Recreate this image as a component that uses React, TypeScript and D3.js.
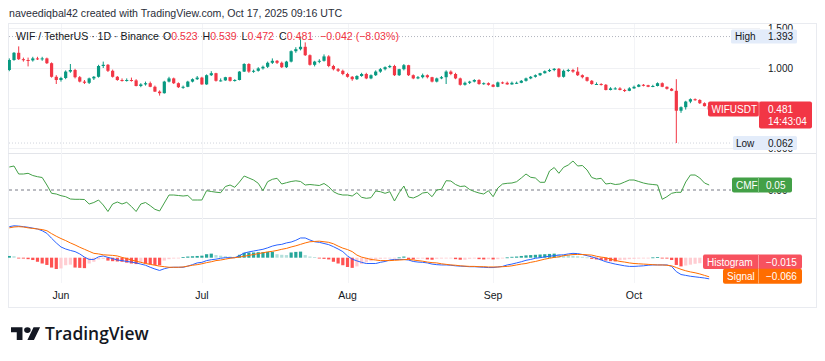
import React from 'react';
import * as d3 from 'd3';

const startDate = '2025-05-21';
const ohlc: [number, number, number, number][] = [
  [0.975,1.12,0.96,1.10],[1.10,1.20,1.09,1.19],[1.19,1.27,1.10,1.11],[1.11,1.13,1.08,1.10],[1.10,1.13,1.02,1.095],[1.095,1.14,1.08,1.12],[1.12,1.14,1.10,1.115],[1.115,1.14,1.09,1.12],[1.12,1.13,1.05,1.06],[1.06,1.07,0.88,0.89],
  [0.89,0.91,0.80,0.85],[0.85,0.89,0.83,0.875],[0.875,0.97,0.86,0.955],[0.955,1.05,0.94,0.975],[0.975,0.99,0.87,0.885],[0.885,0.90,0.82,0.83],[0.83,0.85,0.80,0.815],[0.815,0.88,0.80,0.87],[0.87,0.90,0.85,0.89],[0.89,1.04,0.88,1.025],
  [1.025,1.08,1.00,1.04],[1.04,1.05,0.95,0.965],[0.965,0.98,0.88,0.89],[0.89,0.90,0.84,0.85],[0.85,0.87,0.83,0.845],[0.845,0.87,0.83,0.85],[0.85,0.88,0.83,0.845],[0.845,0.86,0.77,0.775],[0.775,0.81,0.76,0.795],[0.795,0.83,0.78,0.81],
  [0.81,0.83,0.76,0.765],[0.765,0.78,0.70,0.705],[0.705,0.72,0.655,0.685],[0.685,0.84,0.68,0.83],[0.83,0.89,0.82,0.87],[0.87,0.88,0.80,0.81],[0.81,0.82,0.75,0.76],[0.76,0.78,0.74,0.765],[0.765,0.84,0.76,0.83],[0.83,0.87,0.82,0.86],
  [0.86,0.90,0.85,0.88],[0.88,0.89,0.79,0.795],[0.795,0.92,0.79,0.91],[0.91,0.96,0.90,0.935],[0.935,0.94,0.83,0.84],[0.84,0.87,0.83,0.845],[0.845,0.89,0.84,0.885],[0.885,0.89,0.83,0.84],[0.84,0.86,0.83,0.85],[0.85,0.96,0.845,0.955],
  [0.955,1.06,0.95,1.05],[1.05,1.06,0.94,0.955],[0.955,0.98,0.94,0.965],[0.965,1.01,0.955,0.995],[0.995,1.03,0.98,1.015],[1.015,1.08,1.00,1.065],[1.065,1.12,1.05,1.09],[1.09,1.10,1.05,1.065],[1.065,1.08,1.00,1.01],[1.01,1.09,1.00,1.08],
  [1.08,1.22,1.07,1.21],[1.21,1.26,1.19,1.235],[1.235,1.393,1.22,1.265],[1.265,1.32,1.15,1.16],[1.16,1.17,1.03,1.04],[1.04,1.09,1.02,1.08],[1.08,1.11,1.06,1.09],[1.09,1.17,1.08,1.145],[1.145,1.16,1.01,1.025],[1.025,1.04,0.97,0.985],
  [0.985,1.00,0.95,0.965],[0.965,0.98,0.91,0.925],[0.925,0.94,0.88,0.89],[0.89,0.90,0.84,0.86],[0.86,0.91,0.85,0.90],[0.90,0.94,0.89,0.925],[0.925,0.94,0.86,0.87],[0.87,0.92,0.86,0.91],[0.91,0.97,0.90,0.955],[0.955,1.00,0.94,0.985],
  [0.985,1.02,0.97,1.01],[1.01,1.04,1.00,1.025],[1.025,1.04,0.90,0.91],[0.91,0.99,0.90,0.985],[0.985,1.05,0.97,1.035],[1.035,1.04,0.90,0.91],[0.91,0.92,0.86,0.87],[0.87,0.90,0.86,0.885],[0.885,0.93,0.87,0.91],[0.91,0.92,0.87,0.885],
  [0.885,0.89,0.82,0.83],[0.83,0.88,0.82,0.87],[0.87,0.90,0.86,0.885],[0.885,0.97,0.80,0.955],[0.955,0.97,0.91,0.925],[0.925,0.94,0.86,0.87],[0.87,0.88,0.78,0.79],[0.79,0.83,0.78,0.815],[0.815,0.84,0.80,0.83],[0.83,0.86,0.82,0.85],
  [0.85,0.86,0.79,0.80],[0.80,0.82,0.79,0.81],[0.81,0.82,0.78,0.79],[0.79,0.80,0.76,0.765],[0.765,0.83,0.76,0.82],[0.82,0.83,0.80,0.815],[0.815,0.83,0.79,0.795],[0.795,0.83,0.79,0.815],[0.815,0.83,0.80,0.815],[0.815,0.85,0.81,0.84],
  [0.84,0.88,0.83,0.87],[0.87,0.90,0.86,0.89],[0.89,0.92,0.88,0.91],[0.91,0.94,0.90,0.935],[0.935,0.97,0.93,0.96],[0.96,0.99,0.95,0.975],[0.975,1.00,0.96,0.99],[0.99,1.00,0.88,0.89],[0.89,0.98,0.88,0.965],[0.965,0.99,0.95,0.975],
  [0.975,0.99,0.94,0.955],[0.955,1.01,0.90,0.91],[0.91,0.92,0.87,0.885],[0.885,0.89,0.83,0.84],[0.84,0.85,0.79,0.80],[0.80,0.82,0.79,0.80],[0.80,0.81,0.78,0.79],[0.79,0.80,0.72,0.725],[0.725,0.76,0.72,0.745],[0.745,0.76,0.73,0.745],
  [0.745,0.76,0.72,0.725],[0.725,0.74,0.70,0.715],[0.715,0.76,0.71,0.745],[0.745,0.78,0.74,0.765],[0.765,0.80,0.76,0.79],[0.79,0.80,0.77,0.785],[0.785,0.79,0.76,0.765],[0.765,0.79,0.76,0.775],[0.775,0.82,0.77,0.81],[0.81,0.82,0.76,0.765],
  [0.765,0.77,0.73,0.74],[0.74,0.75,0.71,0.715],[0.715,0.86,0.062,0.466],[0.466,0.52,0.44,0.51],[0.51,0.59,0.48,0.58],[0.58,0.62,0.56,0.61],[0.61,0.62,0.59,0.60],[0.60,0.61,0.55,0.56],[0.56,0.57,0.52,0.523],[0.523,0.539,0.472,0.481],
];

const cmf = [
  0.23,0.24,0.16,0.16,0.167,0.145,0.133,0.125,0.05,-0.033,
  -0.04,-0.057,-0.067,-0.09,-0.093,-0.093,-0.095,-0.14,-0.125,-0.10,
  -0.15,-0.215,-0.14,-0.12,-0.14,-0.123,-0.165,-0.215,-0.14,-0.125,
  -0.157,-0.193,-0.21,-0.13,-0.05,-0.05,-0.055,-0.06,-0.055,-0.10,
  -0.10,-0.10,-0.007,-0.015,-0.022,-0.027,0.035,0.05,0.027,0.08,
  0.14,0.12,0.10,0.067,-0.007,0.083,0.107,0.117,0.06,0.073,
  0.085,0.092,0.085,0.05,0.055,0.05,0.045,0.065,0.033,-0.017,
  -0.04,-0.05,-0.05,-0.06,-0.027,-0.073,-0.083,-0.077,-0.01,-0.017,
  -0.033,-0.017,-0.11,-0.027,0.04,-0.07,-0.08,-0.06,-0.03,-0.023,
  -0.067,0,0.007,0.093,0.09,0.055,0.035,0.04,0.005,-0.015,
  -0.03,-0.04,-0.007,-0.067,0.02,0.06,0.067,0.07,0.083,0.12,
  0.16,0.127,0.12,0.077,0.077,0.19,0.225,0.167,0.227,0.25,
  0.29,0.24,0.245,0.2,0.125,0.11,0.117,0.06,0.067,0.055,
  0.06,0.08,0.10,0.10,0.085,0.07,0.06,0.055,0.05,-0.093,
  -0.067,-0.033,-0.023,-0.023,0.08,0.15,0.15,0.12,0.07,0.05,
];

const macd = [
  0.107,0.110,0.109,0.107,0.105,0.102,0.099,0.093,0.084,0.067,
  0.051,0.037,0.030,0.025,0.021,0.013,0.002,-0.006,-0.006,0.003,
  0.006,0.001,-0.003,-0.008,-0.010,-0.013,-0.015,-0.018,-0.022,-0.026,
  -0.033,-0.039,-0.044,-0.038,-0.034,-0.033,-0.033,-0.033,-0.029,-0.024,
  -0.018,-0.016,-0.010,-0.007,-0.005,-0.002,0.000,0.000,0.000,0.007,
  0.016,0.020,0.023,0.026,0.029,0.034,0.040,0.044,0.046,0.051,
  0.054,0.060,0.068,0.068,0.061,0.055,0.053,0.049,0.045,0.038,
  0.030,0.021,0.006,-0.005,-0.011,-0.016,-0.020,-0.020,-0.020,-0.016,
  -0.013,-0.008,-0.006,-0.006,-0.006,-0.008,-0.013,-0.015,-0.016,-0.018,
  -0.022,-0.024,-0.025,-0.025,-0.026,-0.028,-0.029,-0.030,-0.031,-0.031,
  -0.032,-0.033,-0.034,-0.034,-0.032,-0.030,-0.025,-0.022,-0.018,-0.014,
  -0.009,-0.006,-0.002,0.000,0.003,0.005,0.007,0.009,0.010,0.013,
  0.015,0.014,0.011,0.007,0.003,-0.002,-0.008,-0.014,-0.018,-0.022,
  -0.025,-0.028,-0.030,-0.030,-0.029,-0.028,-0.026,-0.025,-0.025,-0.025,
  -0.025,-0.030,-0.048,-0.058,-0.061,-0.064,-0.066,-0.068,-0.070,-0.073,
];

const signal = [
  0.103,0.106,0.107,0.106,0.103,0.101,0.099,0.097,0.093,0.083,
  0.074,0.066,0.059,0.051,0.044,0.036,0.029,0.022,0.015,0.013,
  0.010,0.009,0.008,0.006,0.001,-0.003,-0.008,-0.012,-0.016,-0.020,
  -0.023,-0.026,-0.029,-0.031,-0.033,-0.033,-0.033,-0.032,-0.029,-0.026,
  -0.024,-0.021,-0.017,-0.014,-0.010,-0.008,-0.005,-0.002,0.000,0.002,
  0.005,0.008,0.011,0.014,0.017,0.020,0.022,0.025,0.029,0.032,
  0.037,0.041,0.046,0.051,0.055,0.056,0.057,0.055,0.053,0.048,
  0.040,0.033,0.028,0.021,0.009,0.002,-0.002,-0.006,-0.008,-0.010,
  -0.010,-0.010,-0.009,-0.008,-0.007,-0.006,-0.008,-0.010,-0.012,-0.015,
  -0.017,-0.018,-0.021,-0.023,-0.025,-0.026,-0.028,-0.029,-0.030,-0.030,
  -0.031,-0.031,-0.032,-0.032,-0.032,-0.031,-0.030,-0.028,-0.025,-0.022,
  -0.020,-0.016,-0.013,-0.009,-0.005,-0.002,0.001,0.003,0.007,0.009,
  0.011,0.011,0.011,0.010,0.009,0.005,0.002,0.000,-0.005,-0.009,
  -0.013,-0.015,-0.018,-0.020,-0.021,-0.022,-0.023,-0.024,-0.025,-0.025,
  -0.026,-0.028,-0.034,-0.040,-0.045,-0.049,-0.052,-0.056,-0.061,-0.066,
];

const hist = [
  0.006,0.005,-0.002,-0.003,-0.005,-0.008,-0.014,-0.02,-0.025,-0.034,
  -0.039,-0.037,-0.026,-0.024,-0.034,-0.035,-0.036,-0.02,-0.014,-0.006,
  -0.004,-0.01,-0.012,-0.013,-0.014,-0.017,-0.02,-0.022,-0.015,-0.02,
  -0.023,-0.025,-0.026,-0.01,-0.005,-0.003,-0.002,0.002,0.004,0.005,
  0.006,0.007,0.012,0.014,0.009,0.007,0.005,0.004,0.003,0.01,
  0.017,0.018,0.018,0.019,0.019,0.02,0.02,0.012,0.01,0.009,
  0.018,0.02,0.021,0.009,0.004,0.002,-0.001,-0.004,-0.006,-0.014,
  -0.02,-0.026,-0.032,-0.035,-0.03,-0.022,-0.016,-0.012,-0.006,-0.004,
  -0.003,-0.002,-0.002,0.001,0.004,-0.005,-0.006,-0.004,-0.003,-0.006,
  -0.007,-0.004,-0.003,-0.002,-0.002,-0.005,-0.007,-0.007,-0.004,-0.003,
  -0.005,-0.006,-0.005,-0.006,-0.005,-0.002,0.001,0.003,0.004,0.006,
  0.008,0.009,0.01,0.011,0.012,0.013,0.014,0.012,0.01,0.009,
  0.007,0.005,0.003,0.001,-0.004,-0.006,-0.008,-0.01,-0.012,-0.013,
  -0.009,-0.007,-0.005,-0.004,-0.003,-0.002,-0.001,0.001,0.002,-0.001,
  -0.003,-0.008,-0.025,-0.03,-0.027,-0.024,-0.021,-0.019,-0.017,-0.015,
];

const priceTicks = [0, 0.5, 1.0, 1.5];
const cmfTicks = [0];
const headerText = 'naveediqbal42 created with TradingView.com, Oct 17, 2025 09:16 UTC';
const symbolText = 'WIF / TetherUS · 1D · Binance';
const ohlcLabels = ['O', 'H', 'L', 'C'];
const changeText = '−0.042 (−8.03%)';
const tickerName = 'WIFUSDT';
const countdown = '14:43:04';
const highLow = { high: 1.393, low: 0.062 };

const UP = '#089981';
const DOWN = '#f23645';
const FONT = '"Liberation Sans", Arial, sans-serif';
const TEXT = '#131722';

export default function App() {
  const day0 = new Date(startDate + 'T00:00:00Z');
  const dates = ohlc.map((_, i) => d3.utcDay.offset(day0, i));
  const x = d3.scaleUtc().domain([dates[0], dates[dates.length - 1]]).range([9.3, 709.2]);

  const frame = { l: 8, r: 816, t: 23, b: 307 };
  const panes = { price: [23, 153], cmf: [153, 218], macd: [218, 283] };

  const yP = d3.scaleLinear().domain([0, 1.5]).range([148, 28]);
  const yC = d3.scaleLinear().domain([-0.2, 0.3]).range([210, 160]);
  const yM = d3.scaleLinear().domain([-0.08, 0.12]).range([257.7 + 0.08 * 290, 257.7 - 0.12 * 290]);

  const monthTicks = x.ticks(d3.utcMonth.every(1));
  const fmtMonth = d3.utcFormat('%b');
  const fmtP = d3.format('.3f');

  const cmfLine = d3.line<number>().x((_, i) => x(dates[i])).y((d) => yC(d));
  const macdLine = d3.line<number>().x((_, i) => x(dates[i])).y((d) => yM(d));

  const last = ohlc[ohlc.length - 1];
  const lastClose = last[3];
  const lastCmf = cmf[cmf.length - 1];
  const lastHist = hist[hist.length - 1];
  const lastSignal = signal[signal.length - 1];
  const fmtNeg = (v: number, p: number) => (v < 0 ? '−' : '') + Math.abs(v).toFixed(p);

  const histColor = (v: number, i: number) => {
    const prev = i > 0 ? hist[i - 1] : v;
    if (v >= 0) return v >= prev ? '#26a69a' : '#b2dfdb';
    return v < prev ? '#ff5252' : '#ffcdd2';
  };

  const bw = 3.2;
  const labelFs = 10;

  const yc = yP(lastClose);
  const yHigh = yP(highLow.high);
  const yLow = yP(highLow.low);
  const yCmfL = yC(lastCmf);
  const yHistL = yM(lastHist);
  const ySigL = yM(lastSignal);

  return (
    <svg width={825} height={361} style={{ position: 'absolute', left: 0, top: 0, background: '#fff' }}
      fontFamily={FONT}>
      <defs>
        <clipPath id="pricePane"><rect x={frame.l} y={panes.price[0]} width={frame.r - frame.l} height={panes.price[1] - panes.price[0]} /></clipPath>
        <clipPath id="cmfPane"><rect x={frame.l} y={panes.cmf[0]} width={frame.r - frame.l} height={panes.cmf[1] - panes.cmf[0]} /></clipPath>
        <clipPath id="macdPane"><rect x={frame.l} y={panes.macd[0]} width={frame.r - frame.l} height={panes.macd[1] - panes.macd[0]} /></clipPath>
      </defs>
      <rect x={0} y={0} width={825} height={361} fill="#fff" />

      {/* header */}
      <text x={9} y={17} fontSize={10.6} fill="#2a2e39">{headerText}</text>

      {/* frame */}
      <rect x={frame.l + 0.5} y={frame.t + 0.5} width={frame.r - frame.l} height={frame.b - frame.t} fill="none" stroke="#e9ebf0" />
      <line x1={frame.l} x2={frame.r} y1={panes.cmf[0] + 0.5} y2={panes.cmf[0] + 0.5} stroke="#e3e5ea" />
      <line x1={frame.l} x2={frame.r} y1={panes.macd[0] + 0.5} y2={panes.macd[0] + 0.5} stroke="#e3e5ea" />

      {/* vertical grid */}
      {monthTicks.map((t, i) => (
        <line key={'vg' + i} x1={Math.round(x(t)) + 0.5} x2={Math.round(x(t)) + 0.5} y1={frame.t + 1} y2={panes.macd[1]} stroke="#f3f4f7" />
      ))}
      {/* horizontal grid in price */}
      {priceTicks.map((p, i) => (
        <line key={'hg' + i} x1={frame.l + 1} x2={760} y1={Math.round(yP(p)) + 0.5} y2={Math.round(yP(p)) + 0.5} stroke="#f0f1f4" clipPath="url(#pricePane)" />
      ))}

      {/* high / low dotted lines */}
      <line x1={frame.l + 1} x2={731} y1={yHigh} y2={yHigh} stroke="#b2b5be" strokeDasharray="1,2" />
      <line x1={frame.l + 1} x2={731} y1={yLow} y2={yLow} stroke="#d1d4dc" strokeDasharray="1,2" />

      {/* candles */}
      <g clipPath="url(#pricePane)">
        {ohlc.map(([o, h, l, c], i) => {
          const cx = x(dates[i]);
          const col = c >= o ? UP : DOWN;
          const top = yP(Math.max(o, c));
          const bot = yP(Math.min(o, c));
          return (
            <g key={'c' + i}>
              <line x1={cx} x2={cx} y1={yP(h)} y2={yP(l)} stroke={col} strokeWidth={1} />
              <rect x={cx - bw / 2} y={top} width={bw} height={Math.max(1, bot - top)} fill={col} />
            </g>
          );
        })}
      </g>

      {/* legend */}
      <g fontSize={10.6}>
        <text x={16} y={40} fill={TEXT}>{symbolText}</text>
        {last.map((v, i) => {
          const xs = [163, 202.5, 241.5, 279][i];
          return (
            <text key={'lg' + i} x={xs} y={40} fill={TEXT}>
              {ohlcLabels[i]}<tspan fill={DOWN}>{fmtP(v)}</tspan>
            </text>
          );
        })}
        <text x={320} y={40} fill={DOWN}>{changeText}</text>
      </g>

      {/* price axis labels */}
      <g clipPath="url(#pricePane)" fontSize={labelFs} fill={TEXT}>
        {priceTicks.map((p, i) => (
          <text key={'pt' + i} x={768} y={yP(p) + 3.5}>{fmtP(p)}</text>
        ))}
      </g>
      <g clipPath="url(#cmfPane)" fontSize={labelFs} fill={TEXT}>
        {cmfTicks.map((p, i) => (
          <text key={'ct' + i} x={768} y={yC(p) + 3.5}>{p.toFixed(2)}</text>
        ))}
      </g>

      {/* CMF */}
      <line x1={frame.l + 1} x2={731} y1={yC(0)} y2={yC(0)} stroke="#787b86" strokeDasharray="3,3" />
      <path d={cmfLine(cmf) || ''} fill="none" stroke="#43a047" strokeWidth={1} clipPath="url(#cmfPane)" />

      {/* MACD */}
      <g clipPath="url(#macdPane)">
        {hist.map((v, i) => {
          const cx = x(dates[i]);
          const y0 = yM(0);
          const y1 = yM(v);
          return <rect key={'h' + i} x={cx - bw / 2} y={Math.min(y0, y1)} width={bw} height={Math.max(0.8, Math.abs(y1 - y0))} fill={histColor(v, i)} />;
        })}
        <path d={macdLine(macd) || ''} fill="none" stroke="#2962ff" strokeWidth={1} />
        <path d={macdLine(signal) || ''} fill="none" stroke="#ff6d00" strokeWidth={1} />
      </g>

      {/* time axis */}
      <g fontSize={10.5} fill={TEXT} textAnchor="middle">
        {monthTicks.map((t, i) => (
          <text key={'mt' + i} x={x(t)} y={299}>{fmtMonth(t)}</text>
        ))}
      </g>

      {/* High label */}
      <rect x={731} y={yHigh - 7} width={66} height={14} rx={1.5} fill="#e3ecfa" />
      <text x={735} y={yHigh + 3.5} fontSize={labelFs} fill={TEXT}>High</text>
      <text x={768} y={yHigh + 3.5} fontSize={labelFs} fill={TEXT}>{fmtP(highLow.high)}</text>
      {/* Low label */}
      <rect x={733} y={yLow - 7} width={64} height={14} rx={1.5} fill="#e3ecfa" />
      <text x={736} y={yLow + 3.5} fontSize={labelFs} fill={TEXT}>Low</text>
      <text x={768} y={yLow + 3.5} fontSize={labelFs} fill={TEXT}>{fmtP(highLow.low)}</text>

      {/* last price label */}
      <rect x={708} y={yc - 8} width={51} height={15} rx={2} fill={DOWN} />
      <rect x={759} y={yc - 8} width={53} height={27} rx={2} fill={DOWN} />
      <line x1={759} x2={759} y1={yc - 8} y2={yc + 7} stroke="#f77c86" />
      <text x={711.5} y={yc + 3.5} fontSize={labelFs} fill="#fff">{tickerName}</text>
      <text x={768} y={yc + 3.5} fontSize={labelFs} fill="#fff">{fmtP(lastClose)}</text>
      <text x={768} y={yc + 15.5} fontSize={labelFs} fill="#fff">{countdown}</text>

      {/* CMF label */}
      <rect x={732} y={yCmfL - 7.5} width={60} height={15} rx={2} fill="#43a047" />
      <line x1={758.5} x2={758.5} y1={yCmfL - 7.5} y2={yCmfL + 7.5} stroke="#7fc483" />
      <text x={736} y={yCmfL + 3.5} fontSize={labelFs} fill="#fff">CMF</text>
      <text x={766} y={yCmfL + 3.5} fontSize={labelFs} fill="#fff">{lastCmf.toFixed(2)}</text>

      {/* Histogram label */}
      <rect x={703} y={yHistL - 7.5} width={99} height={14.5} rx={2} fill="#f7525f" />
      <line x1={758.5} x2={758.5} y1={yHistL - 7.5} y2={yHistL + 7} stroke="#fa9aa2" />
      <text x={707} y={yHistL + 3.5} fontSize={labelFs} fill="#fff">Histogram</text>
      <text x={766} y={yHistL + 3.5} fontSize={labelFs} fill="#fff">{fmtNeg(lastHist, 3)}</text>
      {/* Signal label */}
      <rect x={723} y={ySigL - 8} width={79} height={15} rx={2} fill="#ff6d00" />
      <line x1={758.5} x2={758.5} y1={ySigL - 8} y2={ySigL + 7} stroke="#ffa866" />
      <text x={727} y={ySigL + 3.5} fontSize={labelFs} fill="#fff">Signal</text>
      <text x={766} y={ySigL + 3.5} fontSize={labelFs} fill="#fff">{fmtNeg(lastSignal, 3)}</text>

      {/* logo */}
      <g transform="translate(11,324.5) scale(0.82,0.7)" fill="#131722">
        <path d="M14 22H7V11H0V4h14v18zM28 22h-8l7.5-18h8L28 22z" />
        <circle cx={20} cy={8} r={4} />
      </g>
      <text x={45} y={340} fontSize={17.4} fontWeight={600} fill="#131722" fontFamily='"Open Sans", sans-serif'>TradingView</text>
    </svg>
  );
}
